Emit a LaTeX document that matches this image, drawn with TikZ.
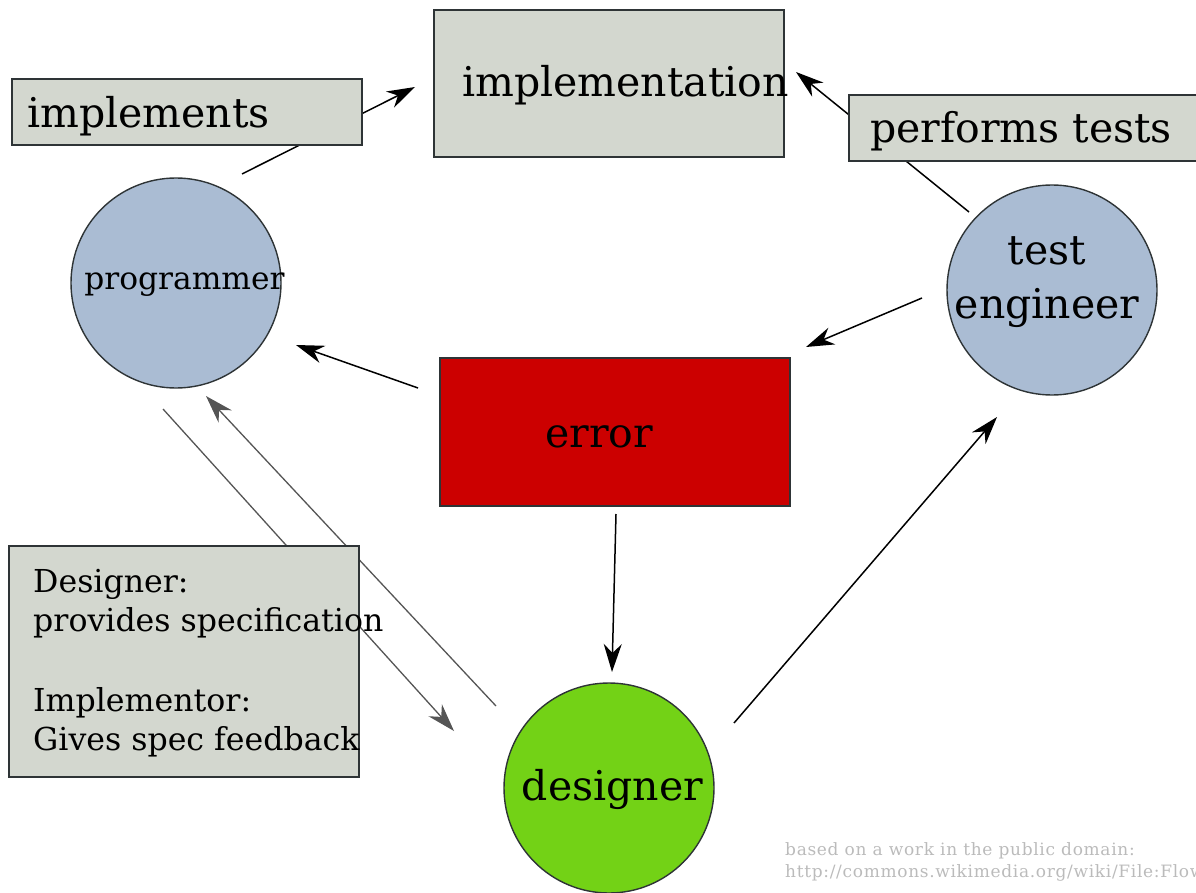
\documentclass[tikz,border=0pt]{standalone}
\usepackage{fontspec}
\setmainfont{DejaVu Serif}
\newfontfamily\creditfont[LetterSpace=4]{DejaVu Serif}
\usetikzlibrary{arrows.meta}
\definecolor{boxfill}{HTML}{D3D7CF}
\definecolor{boxline}{HTML}{2E3436}
\definecolor{persfill}{HTML}{AABCD3}
\definecolor{desfill}{HTML}{73D216}
\definecolor{errfill}{HTML}{CC0000}
\definecolor{grayline}{HTML}{555555}
\definecolor{marktext}{HTML}{BBBBBB}
\tikzset{
  labelbox/.style={draw=boxline, line width=1.4pt, fill=boxfill},
  person/.style={draw=boxline, line width=1.4pt, fill=persfill, circle, minimum size=210pt, inner sep=0pt},
  bigtext/.style={font=\fontsize{41}{48}\selectfont, inner sep=0pt, anchor=base west},
  midtext/.style={font=\fontsize{31.6}{40}\selectfont, inner sep=0pt, anchor=base west},
  progtext/.style={font=\fontsize{31.3}{40}\selectfont, inner sep=0pt, anchor=base},
  credit/.style={font=\creditfont\fontsize{17}{20}\selectfont, text=marktext, inner sep=0pt, anchor=base west},
  flow/.style={line width=1.5pt, -{Stealth[length=28pt,width=18pt,inset=9pt]}},
  grayflow/.style={draw=grayline, line width=1.3pt, -{Stealth[length=28pt,width=18pt,inset=9pt]}},
}
\begin{document}
\begin{tikzpicture}[x=1pt,y=-1pt]
\useasboundingbox (0,0) rectangle (1196,893);
\clip (0,0) rectangle (1196,893);
% connector end points
\coordinate (pi1) at (242,174);
\coordinate (pi2) at (415,87);
\coordinate (ti1) at (969,212);
\coordinate (ti2) at (796,72);
\coordinate (ep1) at (418,388);
\coordinate (ep2) at (296,345);
\coordinate (te1) at (922,298);
\coordinate (te2) at (806,347);
\coordinate (ed1) at (616,514);
\coordinate (ed2) at (612,672);
\coordinate (dt1) at (734,723);
\coordinate (dt2) at (997,417);
\coordinate (pd1) at (163,409);
\coordinate (pd2) at (454,731);
\coordinate (dp1) at (496,706);
\coordinate (dp2) at (206,396);
% lines passing behind label boxes
\draw[flow] (pi1) -- (pi2);
\draw[flow] (ti1) -- (ti2);
\draw[grayflow] (pd1) -- (pd2);
\draw[grayflow] (dp1) -- (dp2);
% boxes
\draw[labelbox] (434,10) rectangle (784,157);
\node[bigtext] (implementation) at (462,97) {implementation};
\draw[labelbox] (12,79) rectangle (362,145);
\node[bigtext] (implements) at (27,128) {implements};
\draw[labelbox] (849,95) rectangle (1210,161);
\node[bigtext] (performs) at (870,143) {performs tests};
\draw[labelbox, fill=errfill] (440,358) rectangle (790,506);
\node[bigtext, anchor=base] (error) at (599,447) {error};
\draw[labelbox] (9,546) rectangle (359,777);
\node[midtext] (n1) at (33,592) {Designer:};
\node[midtext] (n2) at (33,631) {provides specification};
\node[midtext] (n3) at (33,711) {Implementor:};
\node[midtext] (n4) at (33,750) {Gives spec feedback};
% persons
\node[person] (programmer) at (176,283) {};
\node[progtext] (programmertext) at (184.5,290) {programmer};
\node[person] (tester) at (1052,290) {};
\node[bigtext, anchor=base] (testtext1) at (1047,265) {test};
\node[bigtext, anchor=base] (testtext2) at (1047,318) {engineer};
\node[person, fill=desfill] (designer) at (609,788) {};
\node[bigtext, anchor=base] (designertext) at (612.5,800) {designer};
% other connectors
\draw[flow] (ep1) -- (ep2);
\draw[flow] (te1) -- (te2);
\draw[flow] (ed1) -- (ed2);
\draw[flow] (dt1) -- (dt2);
% credit
\node[credit] (credit1) at (785,855) {based on a work in the public domain:};
\node[credit] (credit2) at (785,877) {http://commons.wikimedia.org/wiki/File:Flow};
\end{tikzpicture}
\end{document}
